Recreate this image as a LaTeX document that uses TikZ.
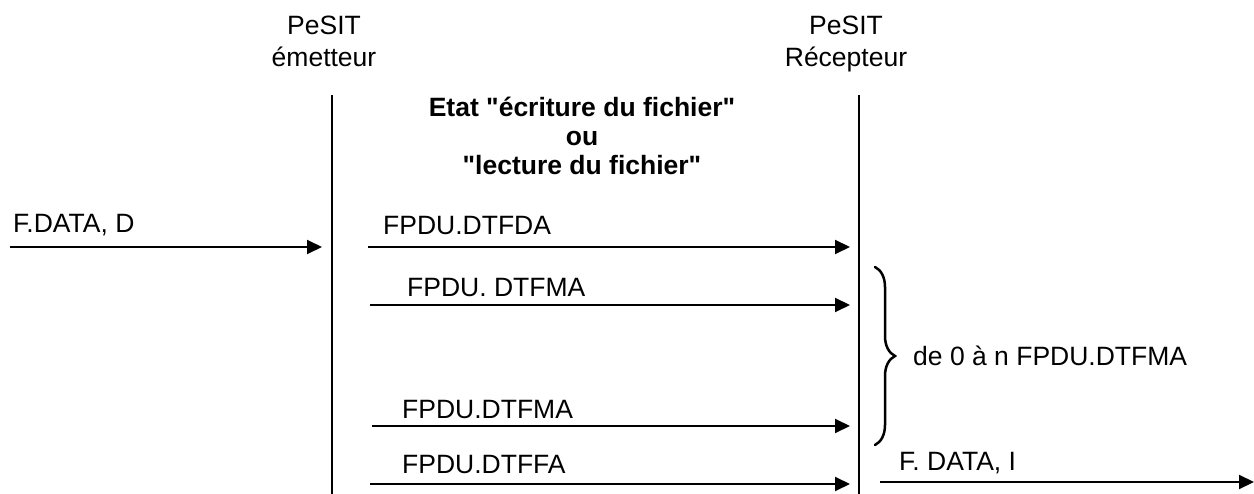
\documentclass[tikz,border=0pt]{standalone}
\usepackage{fontspec}
\setmainfont{Liberation Sans}
\usetikzlibrary{arrows.meta,decorations.pathreplacing}
\begin{document}
\begin{tikzpicture}[x=1pt,y=-1pt,
  lbl/.style={inner sep=0pt,font=\fontsize{26.5}{32}\selectfont},
  ttl/.style={inner sep=0pt,font=\fontsize{26.5}{29}\selectfont\bfseries},
  life/.style={line width=1.5pt},
  msg/.style={line width=2pt,-{Triangle[length=15pt,width=14pt]}},
  grp/.style={line width=2.5pt,line cap=round,decorate,
              decoration={brace,amplitude=20pt,aspect=0.5}}]
\useasboundingbox (0,0) rectangle (1254,494);

% participants
\node[lbl,anchor=base] (sndA) at (324,35) {PeSIT};
\node[lbl,anchor=base] (sndB) at (324,67) {émetteur};
\node[lbl,anchor=base] (rcvA) at (846,35) {PeSIT};
\node[lbl,anchor=base] (rcvB) at (846,67) {Récepteur};

% lifelines
\coordinate (sndTop) at (332,95);
\coordinate (sndBot) at (332,494);
\coordinate (rcvTop) at (859,95);
\coordinate (rcvBot) at (859,494);
\draw[life] (sndTop) -- (sndBot);
\draw[life] (rcvTop) -- (rcvBot);

% state title
\node[ttl,anchor=base] (st1) at (582,117) {Etat \textquotedbl écriture du fichier\textquotedbl};
\node[ttl,anchor=base] (st2) at (582,146) {ou};
\node[ttl,anchor=base] (st3) at (582,175) {\textquotedbl lecture du fichier\textquotedbl};

% service primitive on the sending side
\coordinate (reqS) at (10,247);
\coordinate (reqE) at (322,247);
\draw[msg] (reqS) -- (reqE);
\node[lbl,anchor=base west] (reqL) at (13,233) {F.DATA, D};

% FPDU exchanges
\coordinate (m1S) at (368,247);
\coordinate (m1E) at (850,247);
\draw[msg] (m1S) -- (m1E);
\node[lbl,anchor=base west] (m1L) at (383,235) {FPDU.DTFDA};

\coordinate (m2S) at (370,305);
\coordinate (m2E) at (850,305);
\draw[msg] (m2S) -- (m2E);
\node[lbl,anchor=base west] (m2L) at (407,297) {FPDU. DTFMA};

\coordinate (m3S) at (372,426);
\coordinate (m3E) at (850,426);
\draw[msg] (m3S) -- (m3E);
\node[lbl,anchor=base west] (m3L) at (402,418) {FPDU.DTFMA};

\coordinate (m4S) at (370,484);
\coordinate (m4E) at (850,484);
\draw[msg] (m4S) -- (m4E);
\node[lbl,anchor=base west] (m4L) at (402,474) {FPDU.DTFFA};

% repetition brace
\coordinate (brT) at (875,267);
\coordinate (brB) at (875,445);
\draw[grp] (brT) -- (brB);
\node[lbl,anchor=base west] (brL) at (913,366) {de 0 à n FPDU.DTFMA};

% service primitive on the receiving side
\coordinate (indS) at (880,482);
\coordinate (indE) at (1254,482);
\draw[msg] (indS) -- (indE);
\node[lbl,anchor=base west] (indL) at (899,471) {F. DATA, I};
\end{tikzpicture}
\end{document}
